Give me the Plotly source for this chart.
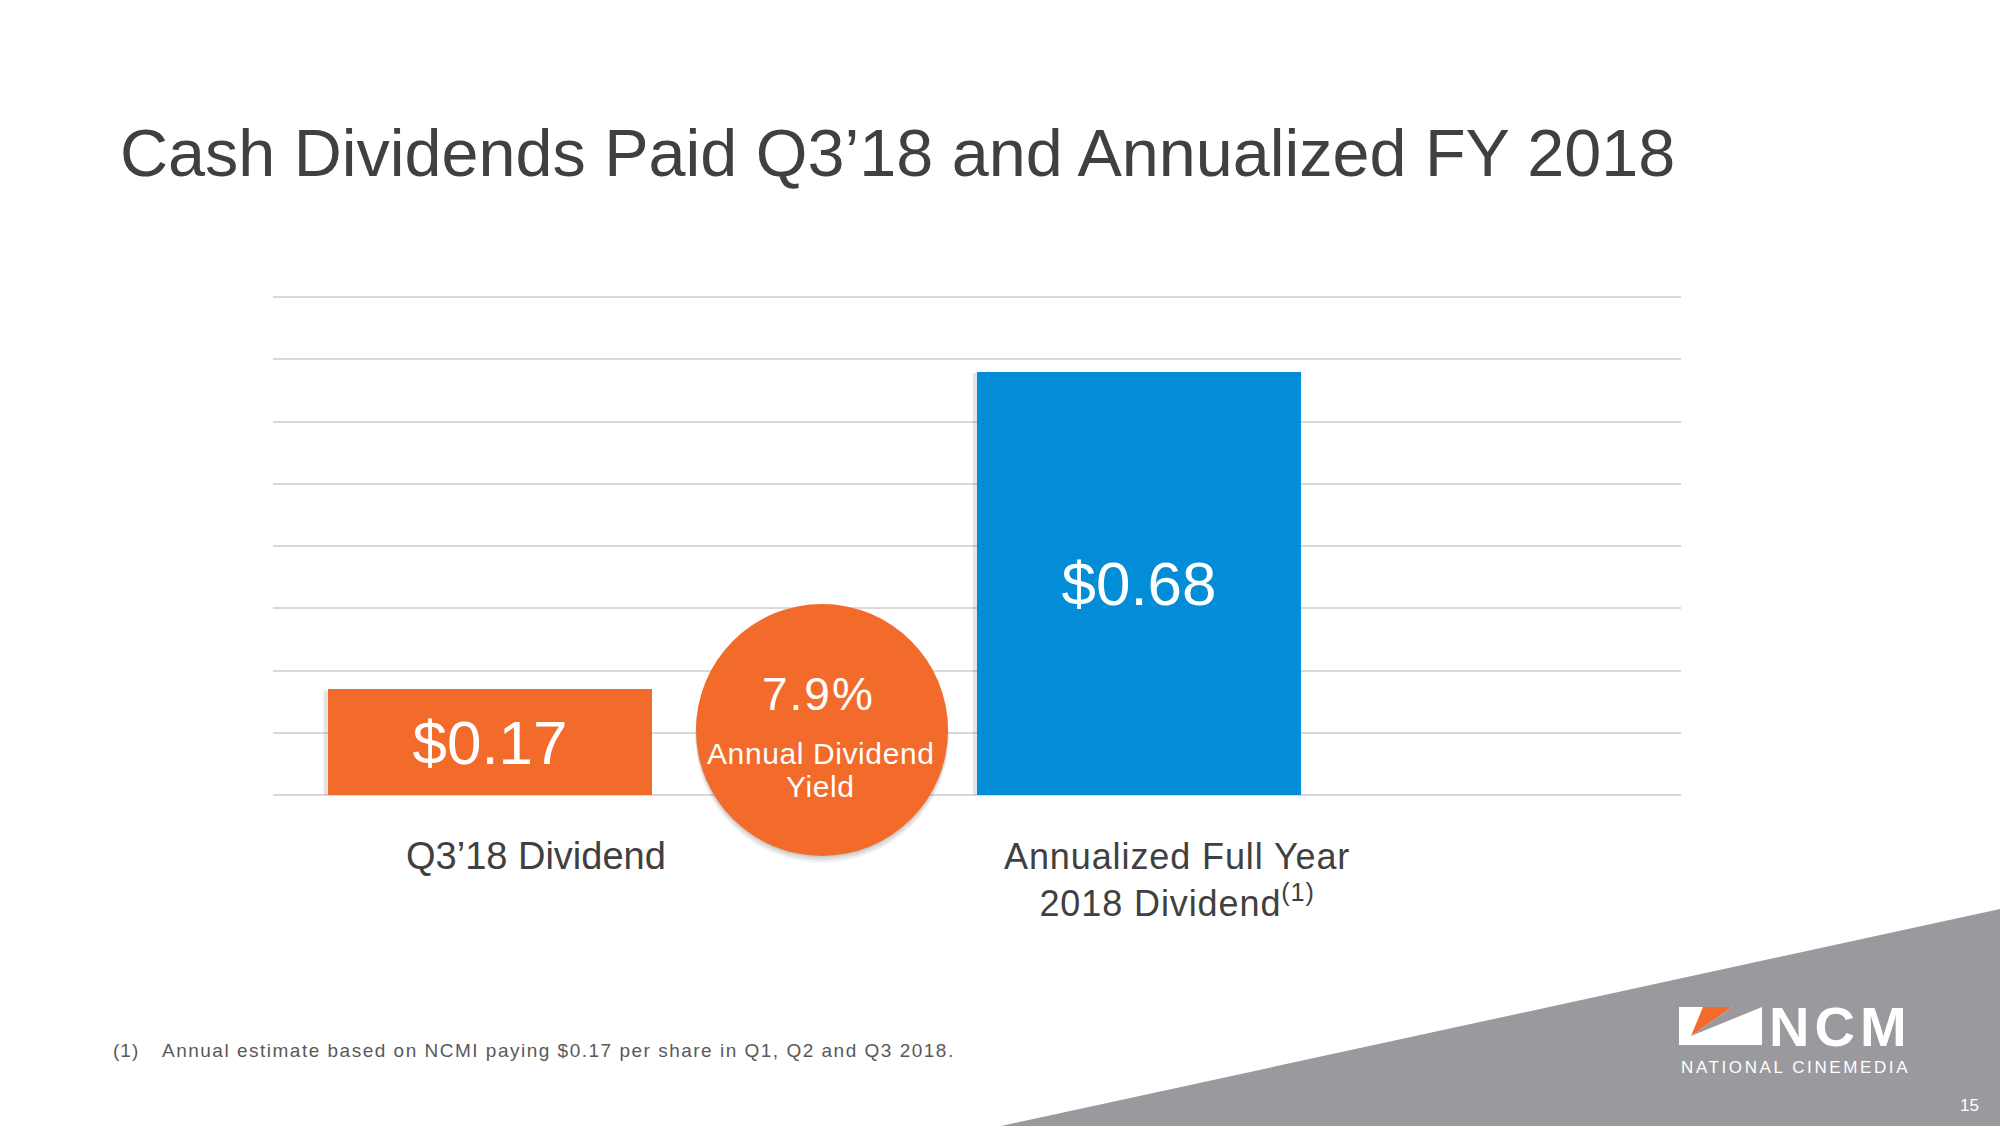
import plotly.graph_objects as go

# ---------------- data ----------------
categories = ["Q3\u201918 Dividend", "Annualized Full Year 2018 Dividend"]
cat_labels = [
    "Q3\u201918 Dividend",
    "<span style='letter-spacing:0.9px'>Annualized Full Year</span><br>"
    "<span style='letter-spacing:0.9px'>2018 Dividend<sup>(1)</sup></span>",
]
values = [0.17, 0.68]
value_text = ["$0.17", "$0.68"]
bar_colors = ["#F26B2B", "#038DD6"]
y_ticks = [0, 0.1, 0.2, 0.3, 0.4, 0.5, 0.6, 0.7, 0.8]
yield_value = "7.9%"
yield_label = ["Annual Dividend", "Yield"]
title_text = "Cash Dividends Paid Q3\u201918 and Annualized FY 2018"
footnote_num = "(1)"
footnote_text = "Annual estimate based on NCMI paying $0.17 per share in Q1, Q2 and Q3 2018."
page_number = "15"

# ---------------- layout geometry (pixels) ----------------
W, H = 2000, 1126
L, R, T, B = 273, 1681, 285, 795
Y_MAX = 0.8 * (B - T) / (B - 297)   # keep 0.8 gridline at pixel 297, inside the plot


def px(x):
    return (x - L) / (R - L)


def py(y):
    return (B - y) / (B - T)


ARIAL = "Liberation Sans, Arial, sans-serif"
DARK = "#404040"
GRAY_BG = "#9A999E"

fig = go.Figure()
fig.add_trace(go.Bar(
    x=categories, y=values, width=0.5,
    marker=dict(color=bar_colors, line=dict(width=0)),
    text=value_text, textposition="inside", insidetextanchor="middle",
    textfont=dict(family=ARIAL, size=62, color="white"),
    constraintext="none", hoverinfo="skip",
))

shapes = []
# subtle bar shadows
for i, v in enumerate(values):
    shapes.append(dict(type="rect", xref="x", yref="y", layer="between",
                       x0=i - 0.25 - 0.006, x1=i + 0.25 - 0.002, y0=-0.004, y1=v - 0.002,
                       fillcolor="rgba(0,0,0,0.10)", line=dict(width=0)))

# gray triangle bottom-right
shapes.append(dict(type="path", xref="paper", yref="paper", layer="above",
                   path=f"M {px(990)} {py(1128.4)} L {px(2002)} {py(908.6)} L {px(2002)} {py(1130)} Z",
                   fillcolor=GRAY_BG, line=dict(width=0)))

# circle shadow + circle
cx, cy, r = 822, 730, 126
for dy, rr, a in [(6, 127, 0.05), (4, 126.5, 0.07), (2, 126, 0.08)]:
    shapes.append(dict(type="circle", xref="paper", yref="paper", layer="above",
                       x0=px(cx - rr), x1=px(cx + rr), y0=py(cy + dy + rr), y1=py(cy + dy - rr),
                       fillcolor=f"rgba(0,0,0,{a})", line=dict(width=0)))
shapes.append(dict(type="circle", xref="paper", yref="paper", layer="above",
                   x0=px(cx - r), x1=px(cx + r), y0=py(cy + r), y1=py(cy - r),
                   fillcolor="#F26B2B", line=dict(width=0)))

# logo
shapes.append(dict(type="rect", xref="paper", yref="paper", layer="above",
                   x0=px(1679), x1=px(1762), y0=py(1045), y1=py(1007),
                   fillcolor="white", line=dict(width=0)))
shapes.append(dict(type="path", xref="paper", yref="paper", layer="above",
                   path=f"M {px(1703)} {py(1007)} L {px(1732)} {py(1007)} L {px(1691)} {py(1036)} Z",
                   fillcolor="#F26B2B", line=dict(width=0)))
shapes.append(dict(type="path", xref="paper", yref="paper", layer="above",
                   path=f"M {px(1732)} {py(1007)} L {px(1762)} {py(1007)} L {px(1691)} {py(1036)} Z",
                   fillcolor=GRAY_BG, line=dict(width=0)))

annotations = []


def ann(text, x, y, size, color, family=ARIAL, xanchor="center", weight=None):
    f = dict(family=family, size=size, color=color)
    if weight:
        f["weight"] = weight
    annotations.append(dict(text=text, xref="paper", yref="paper", x=px(x), y=py(y),
                            xanchor=xanchor, yanchor="middle", showarrow=False, font=f))


ann(title_text, 118, 153, 66.5, DARK, xanchor="left")

# category labels under bars
label_shift = [46, 38]
label_y = [856, 880]
label_size = [38, 36]
for i, lab in enumerate(cat_labels):
    annotations.append(dict(text=lab, xref="x", yref="paper", x=categories[i], y=py(label_y[i]),
                            xshift=label_shift[i], xanchor="center", yanchor="middle",
                            showarrow=False, align="center",
                            font=dict(family=ARIAL, size=label_size[i], color=DARK)))

ann(f"<span style='letter-spacing:2px'>{yield_value}</span>", 818, 694, 46, "white")
ann(f"<span style='letter-spacing:0.6px'>{yield_label[0]}</span>", 820, 753, 30, "white")
ann(f"<span style='letter-spacing:0.6px'>{yield_label[1]}</span>", 820, 786, 30, "white")

ann(f"<span style='letter-spacing:1px'>{footnote_num}</span>", 111, 1050, 19, "#595959", xanchor="left")
ann(f"<span style='letter-spacing:1.5px'>{footnote_text}</span>", 160, 1050, 19, "#595959", xanchor="left")

ann("<span style='letter-spacing:5px'>NCM</span>", 1841, 1026, 56, "white", weight="bold")
ann("<span style='letter-spacing:2.6px'>NATIONAL CINEMEDIA</span>", 1795, 1067, 17, "white")
ann(page_number, 1969, 1105, 17, "white")

fig.update_layout(
    width=W, height=H,
    margin=dict(l=L, r=W - R, t=T, b=H - B, pad=0),
    paper_bgcolor="white", plot_bgcolor="white",
    showlegend=False,
    xaxis=dict(type="category", range=[-0.334, 1.835], showticklabels=False,
               showgrid=False, zeroline=False, showline=False, ticks=""),
    yaxis=dict(range=[0, Y_MAX], tickvals=y_ticks, showticklabels=False,
               showgrid=True, gridcolor="#D9D9D9", gridwidth=2,
               zeroline=True, zerolinecolor="#D9D9D9", zerolinewidth=2,
               showline=False, ticks=""),
    shapes=shapes, annotations=annotations,
    bargap=0,
)

fig.write_html("out.html", config={"displayModeBar": False},
               post_script="document.body.style.margin='0';document.body.style.overflow='hidden';")
